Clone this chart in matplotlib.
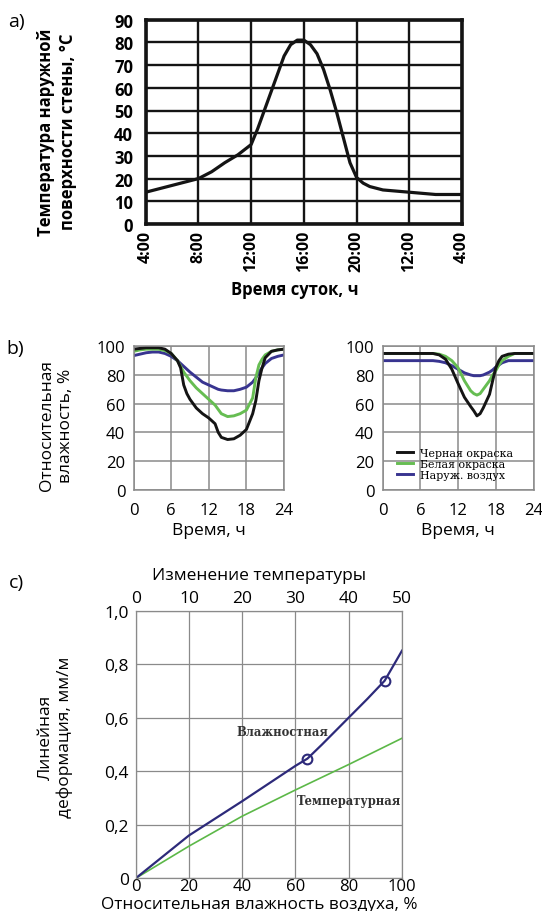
import matplotlib
matplotlib.use("Agg")
import matplotlib.pyplot as plt

plt.rcParams['font.family'] = ['Open Sans', 'DejaVu Sans']

# ---------------- data ----------------
# panel a: hours since 4:00
a_hours = [0, 2, 4, 5, 6, 7, 8, 8.5, 9, 9.5, 10, 10.5, 11, 11.5, 12, 12.5, 13,
           13.5, 14, 14.5, 15, 15.5, 16, 16.5, 17, 18, 19, 20, 22, 24]
a_temp = [14, 17, 20, 23, 27, 30.5, 35, 42, 50, 58, 66, 74, 79, 81, 81, 79, 75,
          68, 59, 49, 38, 27, 20.5, 18, 16.5, 15, 14.5, 14, 13, 13]
a_tick_pos = [0, 4, 8, 12, 16, 20, 24]
a_tick_labels = ['4:00', '8:00', '12:00', '16:00', '20:00', '12:00', '4:00']

# panel b, left
bl_hours = [0, 1, 2, 3, 4, 5, 6, 7, 7.5, 8, 8.5, 9, 10, 11, 12, 13, 13.5, 14,
            15, 16, 17, 18, 19, 19.5, 20, 20.5, 21, 22, 23, 24]
bl_black = [98, 98.5, 99, 99, 99, 98, 95, 90, 85, 73, 67, 63, 57, 53, 50, 46, 40,
            36.5, 35, 35.5, 38, 42, 53, 62, 76, 85, 92, 96.5, 97.5, 98]
bl_green = [96.5, 97.5, 98, 98, 98, 97, 95, 90, 86, 82, 79, 76, 71, 67, 63, 59,
            56, 53, 51, 51.5, 53, 55.5, 64, 78, 87, 91, 94, 96.5, 97.5, 98]
bl_blue = [93.5, 94.5, 95.5, 96, 96, 95, 93, 90, 88, 86, 84, 82, 78.5, 75, 73, 71,
           70, 69.5, 69, 69, 70, 71.5, 75, 78, 82, 85, 88, 91.5, 93, 94]

# panel b, right
br_hours = [0, 4, 8, 9, 10, 11, 12, 13, 14, 14.5, 15, 15.5, 16, 17, 17.5, 18,
            18.5, 19, 20, 21, 24]
br_black = [95, 95, 95, 94, 91, 84, 74, 64.5, 58, 55, 51.5, 53, 57, 66.5, 76, 85,
            90, 93, 94.5, 95, 95]
br_green = [95, 95, 95, 94.5, 93, 90, 85, 76, 69, 67, 66, 67, 70, 76, 80, 83, 87,
            90, 93, 95, 95]
br_blue = [90, 90, 90, 89.5, 88.5, 86.5, 84, 81.5, 80, 79.5, 79.5, 79.5, 80, 82,
           83.5, 85.5, 87, 88.5, 90, 90, 90]
b_legend = ['Черная окраска', 'Белая окраска', 'Наруж. воздух']

# panel c
c_hum = [0, 20, 40, 60, 64.5, 70, 80, 87, 93.5, 100]
c_moist = [0, 0.16, 0.288, 0.42, 0.447, 0.5, 0.6, 0.67, 0.738, 0.85]
c_hum_t = [0, 20, 40, 60, 80, 100]
c_temp = [0, 0.12, 0.232, 0.33, 0.425, 0.523]
c_mark_x = [64.5, 93.5]
c_mark_y = [0.447, 0.738]
c_yticks = [0, 0.2, 0.4, 0.6, 0.8, 1.0]
c_ylabels = ['0', '0,2', '0,4', '0,6', '0,8', '1,0']
c_top_ticks = [0, 10, 20, 30, 40, 50]

BLACK = '#141414'
GREEN = '#66bd52'
BLUE = '#383490'
CBLUE = '#2d2a7a'
CGREEN = '#5cb848'
GRID = '#8a8a8a'

W, H = 542, 912
fig = plt.figure(figsize=(W / 100, H / 100), dpi=100)


def rect(x0, x1, ytop, ybot):
    return [x0 / W, 1 - ybot / H, (x1 - x0) / W, (ybot - ytop) / H]


def ftext(x, y, s, **kw):
    fig.text(x / W, 1 - y / H, s, **kw)


# ---------------- panel a ----------------
axa = fig.add_axes(rect(145.7, 462, 20.7, 225))
axa.plot(a_hours, a_temp, color=BLACK, lw=2.3, solid_capstyle='round', zorder=3)
axa.set_xlim(0, 24)
axa.set_ylim(0, 90)
axa.set_xticks(a_tick_pos)
axa.set_xticklabels(a_tick_labels, rotation=90, fontsize=11.5, fontweight='bold')
axa.set_yticks(range(0, 91, 10))
axa.set_yticklabels([str(v) for v in range(0, 91, 10)], fontsize=12, fontweight='bold')
axa.tick_params(length=0, pad=9)
axa.tick_params(axis='x', pad=4)
axa.grid(True, color=BLACK, lw=1.7)
for sp in axa.spines.values():
    sp.set_linewidth(2.6)
    sp.set_color(BLACK)
ftext(295, 290, 'Время суток, ч', ha='center', va='center', fontsize=12, fontweight='bold')
ftext(57, 132, 'Температура наружной\nповерхности стены, °C', ha='center', va='center',
      rotation=90, fontsize=12, fontweight='bold', linespacing=1.25)
ftext(16, 22, 'a)', ha='center', va='center', fontsize=14)

# ---------------- panel b ----------------
def style_b(ax):
    ax.set_xlim(0, 24)
    ax.set_ylim(0, 100)
    ax.set_xticks([0, 6, 12, 18, 24])
    ax.set_yticks([0, 20, 40, 60, 80, 100])
    ax.tick_params(length=0, labelsize=12, pad=6)
    ax.tick_params(axis='x', pad=9)
    ax.grid(True, color=GRID, lw=1.1)
    for sp in ax.spines.values():
        sp.set_linewidth(1.1)
        sp.set_color(GRID)


axbl = fig.add_axes(rect(133.6, 284, 347.3, 490.7))
axbl.plot(bl_hours, bl_blue, color=BLUE, lw=2.1)
axbl.plot(bl_hours, bl_green, color=GREEN, lw=2.1)
axbl.plot(bl_hours, bl_black, color=BLACK, lw=2.1)
style_b(axbl)

axbr = fig.add_axes(rect(382.7, 533.5, 347.3, 490.7))
lbl, = axbr.plot(br_hours, br_blue, color=BLUE, lw=2.1)
lg, = axbr.plot(br_hours, br_green, color=GREEN, lw=2.1)
lb, = axbr.plot(br_hours, br_black, color=BLACK, lw=2.1)
style_b(axbr)
axbr.legend([lb, lg, lbl], b_legend, loc='upper left', bbox_to_anchor=(0.093, 0.29),
            frameon=False, borderpad=0, borderaxespad=0, labelspacing=0.08,
            handlelength=1.5, handletextpad=0.6,
            prop=dict(family='DejaVu Serif', size=7.9))

ftext(209, 531, 'Время, ч', ha='center', va='center', fontsize=12.5)
ftext(458, 531, 'Время, ч', ha='center', va='center', fontsize=12.5)
ftext(56, 426, 'Относительная\nвлажность, %', ha='center', va='center',
      rotation=90, fontsize=12.5, linespacing=1.25)
ftext(15, 349, 'b)', ha='center', va='center', fontsize=14)

# ---------------- panel c ----------------
axc = fig.add_axes(rect(135.7, 402, 611.5, 879.3))
axc.plot(c_hum_t, c_temp, color=CGREEN, lw=1.2)
axc.plot(c_hum, c_moist, color=CBLUE, lw=1.6)
axc.plot(c_mark_x, c_mark_y, ls='none', marker='o', ms=7, mfc='none', mec=CBLUE, mew=1.5)
axc.set_xlim(0, 100)
axc.set_ylim(0, 1.0)
axc.set_xticks([0, 20, 40, 60, 80, 100])
axc.set_yticks(c_yticks)
axc.set_yticklabels(c_ylabels)
axc.tick_params(length=0, labelsize=12.5, pad=5)
axc.tick_params(axis='x', pad=0, labelsize=12)
axc.grid(True, color=GRID, lw=0.9)
for sp in axc.spines.values():
    sp.set_linewidth(0.9)
    sp.set_color(GRID)
top = axc.secondary_xaxis('top', functions=(lambda x: x / 2, lambda x: x * 2))
top.set_xticks(c_top_ticks)
top.tick_params(length=0, labelsize=12.5, pad=3)
for sp in top.spines.values():
    sp.set_visible(False)
axc.text(38, 0.548, 'Влажностная', family='DejaVu Serif', fontweight='bold',
         fontsize=8.3, color='#333333', va='center', ha='left')
axc.text(60.5, 0.29, 'Температурная', family='DejaVu Serif', fontweight='bold',
         fontsize=8.3, color='#333333', va='center', ha='left')
ftext(259, 576, 'Изменение температуры', ha='center', va='center', fontsize=12.5)
ftext(259, 905, 'Относительная влажность воздуха, %', ha='center', va='center', fontsize=12.3)
ftext(55.5, 737, 'Линейная\nдеформация, мм/м', ha='center', va='center',
      rotation=90, fontsize=12.5, linespacing=1.25)
ftext(16, 583, 'c)', ha='center', va='center', fontsize=14)

fig.savefig('out.png', dpi=100)
